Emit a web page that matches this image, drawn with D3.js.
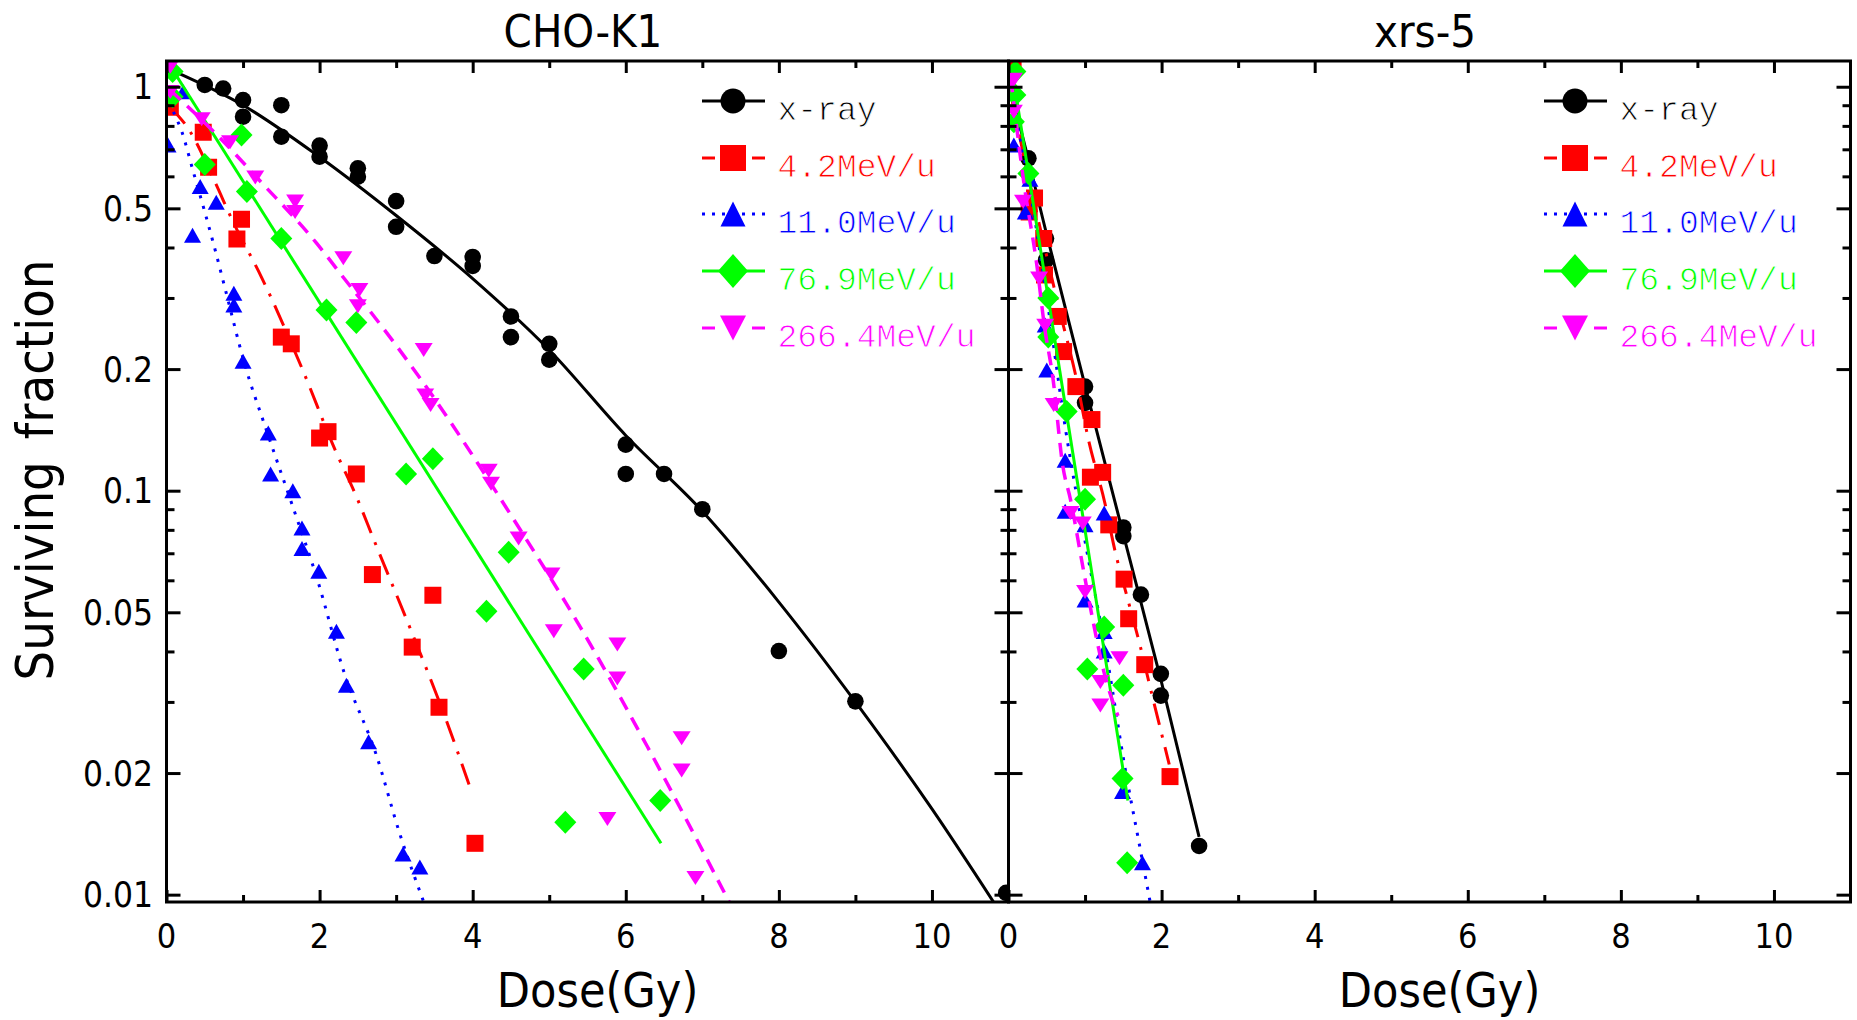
<!DOCTYPE html>
<html><head><meta charset="utf-8">
<script src="https://cdn.jsdelivr.net/npm/d3@7"></script>
<style>
html,body{margin:0;padding:0;background:#fff;}
svg{display:block;}
text{font-family:"DejaVu Sans Condensed","DejaVu Sans",sans-serif;font-stretch:condensed;}
text.leg{font-family:"Liberation Mono","DejaVu Sans Mono",monospace;font-stretch:normal;}
</style></head><body>
<svg id="chart" width="1857" height="1020"></svg>
<script>
// ---------- data ----------
const panelTitles = ["CHO-K1", "xrs-5"];
const seriesNames = ["x-ray", "4.2MeV/u", "11.0MeV/u", "76.9MeV/u", "266.4MeV/u"];
const doseMajorTicks = [0, 2, 4, 6, 8, 10];
const doseMinorTicks = [1, 3, 5, 7, 9];
const sfMajorTicks = [1, 0.5, 0.2, 0.1, 0.05, 0.02, 0.01];
const sfTickLabels = ["1", "0.5", "0.2", "0.1", "0.05", "0.02", "0.01"];
const sfMinorTicks = [0.9, 0.8, 0.7, 0.6, 0.4, 0.3, 0.09, 0.08, 0.07, 0.06, 0.04, 0.03];

// CHO-K1 measured points [dose Gy, surviving fraction]
const choXray = [[0.50,1.01],[0.74,0.99],[1.0,0.927],[1.0,0.843],[1.5,0.90],[1.5,0.752],[2.0,0.715],[2.0,0.671],[2.5,0.628],[2.5,0.599],[3.0,0.521],[3.0,0.450],[3.5,0.381],[4.0,0.379],[4.0,0.360],[4.5,0.270],[4.5,0.240],[5.0,0.231],[5.0,0.211],[6.0,0.130],[6.0,0.110],[6.5,0.110],[7.0,0.090],[8.0,0.0401],[9.0,0.0301],[10.97,0.0101]];
const choC4 = [[0.05,0.89],[0.48,0.771],[0.55,0.632],[0.98,0.470],[0.92,0.420],[1.50,0.240],[1.63,0.231],[2.0,0.135],[2.11,0.140],[2.48,0.110],[2.69,0.062],[3.48,0.0551],[3.21,0.041],[3.56,0.0291],[4.03,0.0134]];
const choC11 = [[0.02,0.717],[0.22,0.972],[0.44,0.566],[0.65,0.518],[0.34,0.429],[0.88,0.308],[0.88,0.288],[1.0,0.209],[1.33,0.139],[1.36,0.110],[1.65,0.100],[1.77,0.0809],[1.77,0.0719],[1.99,0.0632],[2.22,0.0449],[2.35,0.0330],[2.64,0.0239],[3.09,0.0126],[3.31,0.0117]];
const choC77 = [[0.08,1.09],[0.08,0.945],[0.50,0.642],[0.98,0.759],[1.05,0.55],[1.50,0.421],[2.09,0.280],[2.48,0.261],[3.13,0.110],[3.48,0.120],[4.47,0.0704],[4.18,0.0503],[5.45,0.0362],[5.21,0.0151],[6.45,0.0171]];
const choC266 = [[0.05,1.12],[0.05,0.97],[0.46,0.831],[0.83,0.729],[1.16,0.596],[1.68,0.52],[1.68,0.49],[2.31,0.376],[2.52,0.314],[2.50,0.286],[3.36,0.223],[3.38,0.172],[3.45,0.163],[4.21,0.112],[4.24,0.104],[4.60,0.0761],[5.03,0.0620],[5.06,0.0449],[5.89,0.0416],[5.89,0.0343],[6.73,0.0244],[6.73,0.0203],[5.76,0.0154],[6.91,0.0110]];

// CHO-K1 fitted curves
const choXrayFit = [[0.11,1.09],[1,0.90],[2,0.67],[3,0.48],[4,0.335],[5,0.223],[6,0.137],[7,0.089],[8,0.053],[9,0.030],[10,0.0163],[10.85,0.0093]];
const choC4Fit = [[0.05,0.89],[0.31,0.774],[0.62,0.588],[0.87,0.463],[1.24,0.338],[1.76,0.203],[2.22,0.124],[2.48,0.0968],[2.71,0.0755],[3.18,0.0458],[3.64,0.0275],[3.98,0.0181]];
const choC11Fit = [[0.09,0.867],[0.20,0.774],[0.35,0.616],[0.50,0.49],[0.63,0.398],[0.77,0.314],[1.03,0.203],[1.29,0.144],[1.65,0.0913],[1.96,0.0612],[2.32,0.0355],[2.74,0.0222],[3.05,0.0141],[3.36,0.0096]];
const choC77Fit = [[0.07,1.11],[6.46,0.0134]];
const choC266Fit = [[0.05,0.98],[0.65,0.763],[1.22,0.585],[1.96,0.41],[2.27,0.345],[3.0,0.229],[3.51,0.168],[4.5,0.087],[5.41,0.0458],[6.28,0.0233],[7.35,0.0096]];

// xrs-5 measured points
const xrsXray = [[0.26,0.665],[0.49,0.421],[0.49,0.372],[1.0,0.181],[1.0,0.165],[1.50,0.0811],[1.50,0.0772],[1.73,0.0553],[1.99,0.0352],[1.99,0.0311],[2.49,0.0132]];
const xrsC4 = [[0.06,1.12],[0.34,0.53],[0.27,0.49],[0.46,0.421],[0.47,0.342],[0.65,0.270],[0.72,0.221],[0.88,0.181],[1.09,0.150],[1.23,0.111],[1.07,0.108],[1.31,0.0823],[1.51,0.0604],[1.57,0.0482],[1.78,0.0371],[2.11,0.0196]];
const xrsC11 = [[0.07,0.717],[0.28,0.59],[0.22,0.49],[0.48,0.257],[0.50,0.199],[0.74,0.119],[0.74,0.089],[1.0,0.0823],[1.25,0.088],[1.0,0.0536],[1.25,0.0448],[1.25,0.0401],[1.49,0.0180],[1.75,0.0120]];
const xrsC77 = [[0.09,1.09],[0.09,0.954],[0.07,0.819],[0.26,0.61],[0.52,0.30],[0.52,0.24],[0.76,0.157],[1.0,0.0953],[1.25,0.046],[1.03,0.0362],[1.50,0.033],[1.49,0.0194],[1.55,0.0120]];
const xrsC266 = [[0.07,1.04],[0.07,0.867],[0.19,0.519],[0.40,0.335],[0.48,0.256],[0.59,0.163],[0.81,0.088],[0.97,0.083],[1.0,0.0561],[1.45,0.0385],[1.20,0.0336],[1.20,0.0294]];

// xrs-5 fitted curves
const xrsXrayFit = [[0.0,1.0],[0.09,0.876],[0.5,0.43],[1.0,0.182],[1.5,0.078],[2.0,0.0335],[2.49,0.0139]];
const xrsC4Fit = [[0.02,0.98],[0.23,0.634],[0.41,0.45],[0.67,0.278],[0.88,0.192],[1.04,0.135],[1.26,0.093],[1.39,0.0712],[1.56,0.0537],[1.72,0.0413],[1.87,0.0315],[2.10,0.021]];
const xrsC11Fit = [[0.03,0.95],[0.25,0.60],[0.5,0.30],[0.75,0.14],[1.0,0.075],[1.3,0.0374],[1.52,0.0207],[1.71,0.0133],[1.85,0.0096]];
const xrsC77Fit = [[0.04,1.12],[1.56,0.0171]];
const xrsC266Fit = [[0.03,1.05],[0.2,0.58],[0.37,0.362],[0.47,0.255],[0.58,0.19],[0.71,0.115],[0.81,0.095],[0.97,0.065],[1.10,0.048],[1.25,0.0354],[1.43,0.0277]];

const panelData = [
  {points: [choXray, choC4, choC11, choC77, choC266], fits: [choXrayFit, choC4Fit, choC11Fit, choC77Fit, choC266Fit]},
  {points: [xrsXray, xrsC4, xrsC11, xrsC77, xrsC266], fits: [xrsXrayFit, xrsC4Fit, xrsC11Fit, xrsC77Fit, xrsC266Fit]}
];

// ---------- styles / layout ----------
const styles = [
  {color: "#000000", dash: null, width: 3, shape: "circle"},
  {color: "#ff0000", dash: "22,10,3,10", width: 3, shape: "square"},
  {color: "#0000ff", dash: "3,8", width: 3, shape: "triUp"},
  {color: "#00ff00", dash: null, width: 3, shape: "diamond"},
  {color: "#ff00ff", dash: "14,9", width: 3.5, shape: "triDown"}
];
const plotTop = 61, plotBottom = 902, panelW = 842;
const panelX = [166.5, 1008.5];
const legendRows = [101, 158, 214, 271, 328];

function shapePath(shape, big) {
  if (shape === "circle") { const r = big ? 12.5 : 8.3; return `M${r},0A${r},${r} 0 1,1 ${-r},0A${r},${r} 0 1,1 ${r},0Z`; }
  if (shape === "square") { const s = (big ? 26 : 17) / 2; return `M${-s},${-s}H${s}V${s}H${-s}Z`; }
  if (shape === "triUp") { const w = (big ? 25 : 17) / 2, h = (big ? 25 : 15) / 2; return `M0,${-h}L${w},${h}L${-w},${h}Z`; }
  if (shape === "triDown") { const w = (big ? 26 : 18) / 2, h = (big ? 25 : 14) / 2; return `M${-w},${-h}L${w},${-h}L0,${h}Z`; }
  if (shape === "diamond") { const a = big ? 17 : 11.5, b = big ? 15 : 11; return `M0,${-a}L${b},0L0,${a}L${-b},0Z`; }
}

const svg = d3.select("#chart");
svg.append("rect").attr("width", 1857).attr("height", 1020).attr("fill", "#fff");
const y = d3.scaleLog().domain([0.00959, 1.158]).range([plotBottom, plotTop]);

panelX.forEach((x0, pi) => {
  const x = d3.scaleLinear().domain([0, 11]).range([x0, x0 + panelW]);
  const clipId = "clip" + pi;
  svg.append("clipPath").attr("id", clipId).append("rect")
    .attr("x", x0).attr("y", plotTop).attr("width", panelW).attr("height", plotBottom - plotTop);

  const plot = svg.append("g").attr("clip-path", `url(#${clipId})`);
  const line = d3.line().x(d => x(d[0])).y(d => y(d[1])).curve(d3.curveMonotoneX);

  styles.forEach((st, si) => {
    plot.append("path").datum(panelData[pi].fits[si])
      .attr("d", line).attr("fill", "none").attr("stroke", st.color)
      .attr("stroke-width", st.width).attr("stroke-dasharray", st.dash);
    plot.append("g").selectAll("path").data(panelData[pi].points[si]).join("path")
      .attr("d", shapePath(st.shape, false))
      .attr("transform", d => `translate(${x(d[0])},${y(d[1])})`)
      .attr("fill", st.color);
  });

  // axes (inward ticks)
  const tickStyle = g => { g.select(".domain").remove(); g.selectAll(".tick line").attr("stroke", "#000").attr("stroke-width", 3); g.selectAll(".tick text").remove(); };
  svg.append("g").attr("transform", `translate(0,${plotBottom})`).call(d3.axisBottom(x).tickValues(doseMajorTicks).tickSize(-12)).call(tickStyle);
  svg.append("g").attr("transform", `translate(0,${plotBottom})`).call(d3.axisBottom(x).tickValues(doseMinorTicks).tickSize(-7)).call(tickStyle);
  svg.append("g").attr("transform", `translate(0,${plotTop})`).call(d3.axisTop(x).tickValues(doseMajorTicks).tickSize(-12)).call(tickStyle);
  svg.append("g").attr("transform", `translate(0,${plotTop})`).call(d3.axisTop(x).tickValues(doseMinorTicks).tickSize(-7)).call(tickStyle);
  svg.append("g").attr("transform", `translate(${x0},0)`).call(d3.axisLeft(y).tickValues(sfMajorTicks).tickSize(-14)).call(tickStyle);
  svg.append("g").attr("transform", `translate(${x0},0)`).call(d3.axisLeft(y).tickValues(sfMinorTicks).tickSize(-8)).call(tickStyle);
  svg.append("g").attr("transform", `translate(${x0 + panelW},0)`).call(d3.axisRight(y).tickValues(sfMajorTicks).tickSize(-14)).call(tickStyle);
  svg.append("g").attr("transform", `translate(${x0 + panelW},0)`).call(d3.axisRight(y).tickValues(sfMinorTicks).tickSize(-8)).call(tickStyle);

  // frame
  svg.append("rect").attr("x", x0).attr("y", plotTop).attr("width", panelW).attr("height", plotBottom - plotTop)
    .attr("fill", "none").attr("stroke", "#000").attr("stroke-width", 3);

  // x tick labels
  svg.append("g").selectAll("text").data(doseMajorTicks).join("text")
    .attr("x", d => x(d)).attr("y", 948).attr("text-anchor", "middle")
    .attr("font-size", 34).text(d => d);

  // y tick labels (left panel only)
  if (pi === 0) {
    svg.append("g").selectAll("text").data(sfMajorTicks).join("text")
      .attr("x", 153).attr("y", d => y(d) + 12.5).attr("text-anchor", "end")
      .attr("font-size", 35).text((d, i) => sfTickLabels[i]);
  }

  // title
  svg.append("text").attr("x", x0 + panelW / 2 - 4.5).attr("y", 47).attr("text-anchor", "middle")
    .attr("font-size", 45).text(panelTitles[pi]);
  // x axis title
  svg.append("text").attr("x", x0 + panelW / 2 + 10).attr("y", 1007).attr("text-anchor", "middle")
    .attr("font-size", 48).text("Dose(Gy)");

  // legend
  const lg = svg.append("g");
  styles.forEach((st, si) => {
    const ly = legendRows[si];
    const lx0 = x0 + 535.5, lx1 = x0 + 598.5, mx = x0 + 566.5;
    if (st.shape === "square" || st.shape === "triDown") {
      lg.append("line").attr("x1", lx0).attr("x2", lx0 + 13).attr("y1", ly).attr("y2", ly).attr("stroke", st.color).attr("stroke-width", 3);
      lg.append("line").attr("x1", lx1 - 13).attr("x2", lx1).attr("y1", ly).attr("y2", ly).attr("stroke", st.color).attr("stroke-width", 3);
    } else if (st.shape === "triUp") {
      lg.append("line").attr("x1", lx0).attr("x2", lx1).attr("y1", ly).attr("y2", ly).attr("stroke", st.color).attr("stroke-width", 3).attr("stroke-dasharray", "3,7");
    } else {
      lg.append("line").attr("x1", lx0).attr("x2", lx1).attr("y1", ly).attr("y2", ly).attr("stroke", st.color).attr("stroke-width", 3);
    }
    lg.append("path").attr("d", shapePath(st.shape, true)).attr("transform", `translate(${mx},${ly})`).attr("fill", st.color);
    lg.append("text").attr("class", "leg").attr("x", x0 + 611).attr("y", ly + 19)
      .attr("font-size", 33).attr("fill", st.color)
      .attr("stroke", "#fff").attr("stroke-width", 0.9)
      .text(seriesNames[si]);
  });
});

// y axis title
svg.append("text").attr("transform", "translate(53,470) rotate(-90)").attr("text-anchor", "middle")
  .attr("font-size", 52)
  .call(t => { t.append("tspan").text("Surviving"); t.append("tspan").attr("dx", 22).text("fraction"); });
</script></body></html>
